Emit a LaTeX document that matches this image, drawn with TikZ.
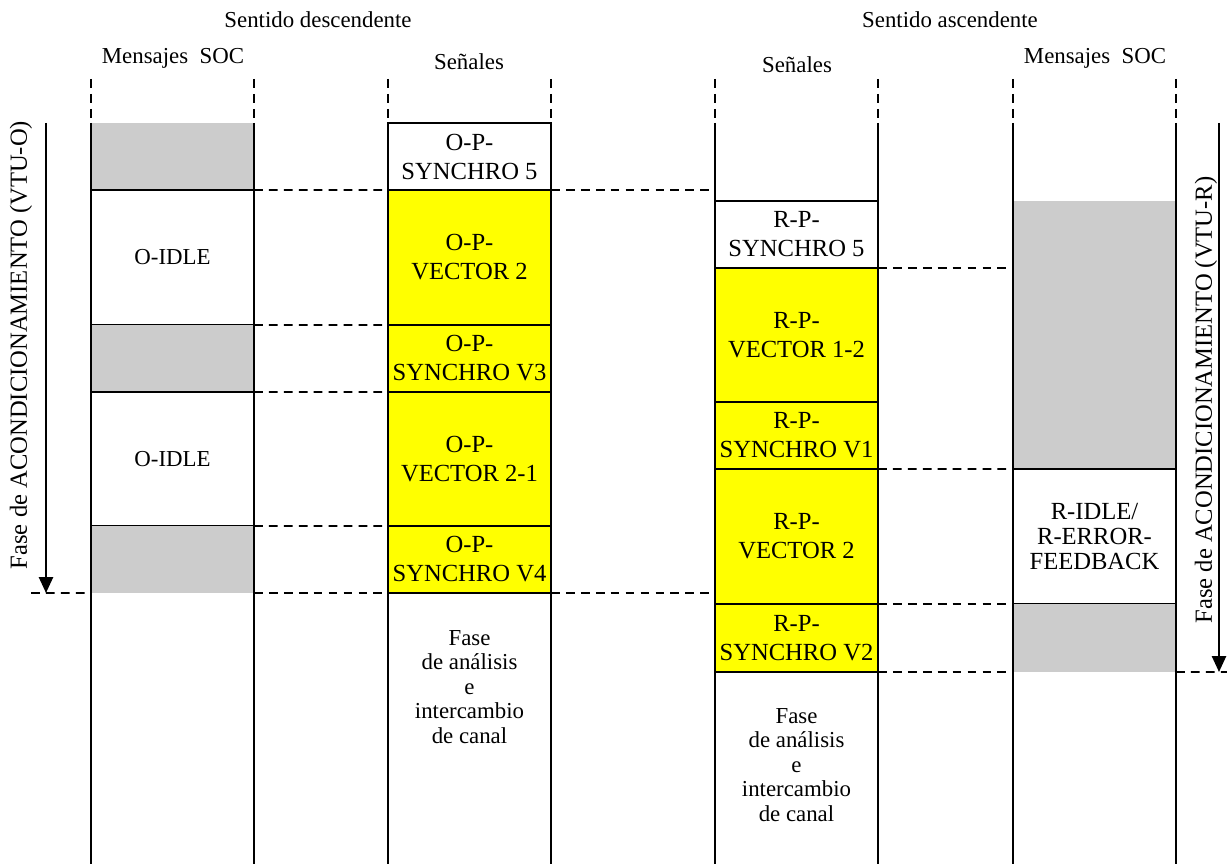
\documentclass[tikz,border=0pt]{standalone}
\usepackage{fontspec}
\setmainfont{Liberation Serif}
\usetikzlibrary{arrows.meta}

\definecolor{socgray}{RGB}{204,204,204}
\definecolor{sigyellow}{RGB}{255,255,0}

\tikzset{
  cell/.style={draw, line width=0.7pt, minimum width=3.26cm, inner sep=0pt, outer sep=0pt, anchor=north west, align=center},
  twoline/.style={font=\fontsize{14}{16.5}\selectfont},
  soc/.style={fill=socgray, minimum width=3.26cm, inner sep=0pt, outer sep=0pt, anchor=north west},
  sig/.style={cell, twoline, fill=sigyellow},
  guide/.style={line width=1.1pt, dash pattern=on 5pt off 3.5pt},
  lane/.style={line width=0.75pt},
  phase/.style={line width=1.1pt, -{Triangle[length=9pt,width=8pt]}},
  phaselabel/.style={rotate=90, font=\fontsize{14}{16}\selectfont},
}

\begin{document}
\begin{tikzpicture}[x=0.02cm, y=-0.02cm, font=\fontsize{13}{14}\selectfont]

    \useasboundingbox (0,0) rectangle (1227,864);

    % Headers
    \node (down) at (318,20) {Sentido descendente};
    \node (up)   at (950,20) {Sentido ascendente};
    \node (hsoco) at (173,58) {Mensajes\enspace SOC};
    \node (hsigo) at (469,62) {Señales};
    \node (hsigr) at (797,65) {Señales};
    \node (hsocr) at (1095,58) {Mensajes\enspace SOC};

    % Downstream: SOC messages (VTU-O)
    \node[soc, minimum height=1.34cm] (ogray1) at (91,123) {};
    \node[cell, minimum height=2.70cm] (oidle1) at (91,190) {O-IDLE};
    \node[soc, minimum height=1.34cm] (ogray2) at (91,325) {};
    \node[cell, minimum height=2.68cm] (oidle2) at (91,392) {O-IDLE};
    \node[soc, minimum height=1.34cm] (ogray3) at (91,526) {};

    % Downstream: signals
    \node[cell, twoline, minimum height=1.34cm] (osync5) at (388,123) {O-P-\\SYNCHRO 5};
    \node[sig, minimum height=2.70cm] (ovec2) at (388,190) {O-P-\\VECTOR 2};
    \node[sig, minimum height=1.34cm] (osyncv3) at (388,325) {O-P-\\SYNCHRO V3};
    \node[sig, minimum height=2.68cm] (ovec21) at (388,392) {O-P-\\VECTOR 2-1};
    \node[sig, minimum height=1.34cm] (osyncv4) at (388,526) {O-P-\\SYNCHRO V4};
    \node[align=center] (ofase) at (469.5,687) {Fase\\de análisis\\e\\intercambio\\de canal};

    % Upstream: signals
    \node[cell, twoline, minimum height=1.34cm] (rsync5) at (715,201) {R-P-\\SYNCHRO 5};
    \node[sig, minimum height=2.68cm] (rvec12) at (715,268) {R-P-\\VECTOR 1-2};
    \node[sig, minimum height=1.34cm] (rsyncv1) at (715,402) {R-P-\\SYNCHRO V1};
    \node[sig, minimum height=2.70cm] (rvec2) at (715,469) {R-P-\\VECTOR 2};
    \node[sig, minimum height=1.36cm] (rsyncv2) at (715,604) {R-P-\\SYNCHRO V2};
    \node[align=center] (rfase) at (796.5,765) {Fase\\de análisis\\e\\intercambio\\de canal};

    % Upstream: SOC messages (VTU-R)
    \node[soc, minimum height=5.36cm] (rgray1) at (1013,201) {};
    \node[cell, font=\fontsize{14}{14}\selectfont, minimum height=2.70cm] (ridle) at (1013,469) {R-IDLE/\\R-ERROR-\\FEEDBACK};
    \node[soc, minimum height=1.36cm] (rgray2) at (1013,604) {};

    % Column edges
    \foreach \x in {91,254,388,551,715,878,1013,1176} {
        \draw[guide] (\x,79) -- (\x,123);
        \draw[lane] (\x,123) -- (\x,864);
    }

    % Dashed links between columns
    \draw[guide] (ogray1.south east) -- (ovec2.north west);
    \draw[guide] (osync5.south east) -- (osync5.south east -| rsync5.west);
    \draw[guide] (oidle1.south east) -- (osyncv3.north west);
    \draw[guide] (ogray2.south east) -- (ovec21.north west);
    \draw[guide] (oidle2.south east) -- (osyncv4.north west);
    \draw[guide] (ogray3.south east) -- (osyncv4.south west);
    \draw[guide] (osyncv4.south east) -- (osyncv4.south east -| rsync5.west);
    \draw[guide] (rsync5.south east) -- (rgray1.west |- rsync5.south);
    \draw[guide] (rsyncv1.south east) -- (ridle.north west);
    \draw[guide] (rvec2.south east) -- (ridle.south west);
    \draw[guide] (rsyncv2.south east) -- (rgray2.south west);

    \coordinate (oend) at (31,593);
    \coordinate (rend) at (1227,672);
    \draw[guide] (oend) -- (ogray3.south west);
    \draw[guide] (rgray2.south east) -- (rend);

    % Phase arrows
    \coordinate (otop) at (46,123);
    \coordinate (rtop) at (1219,123);
    \draw[phase] (otop) -- (otop |- ogray3.south);
    \draw[phase] (rtop) -- (rtop |- rgray2.south);
    \node[phaselabel] (olabel) at (21,345) {Fase de ACONDICIONAMIENTO (VTU-O)};
    \node[phaselabel] (rlabel) at (1206,400) {Fase de ACONDICIONAMIENTO (VTU-R)};

\end{tikzpicture}
\end{document}
